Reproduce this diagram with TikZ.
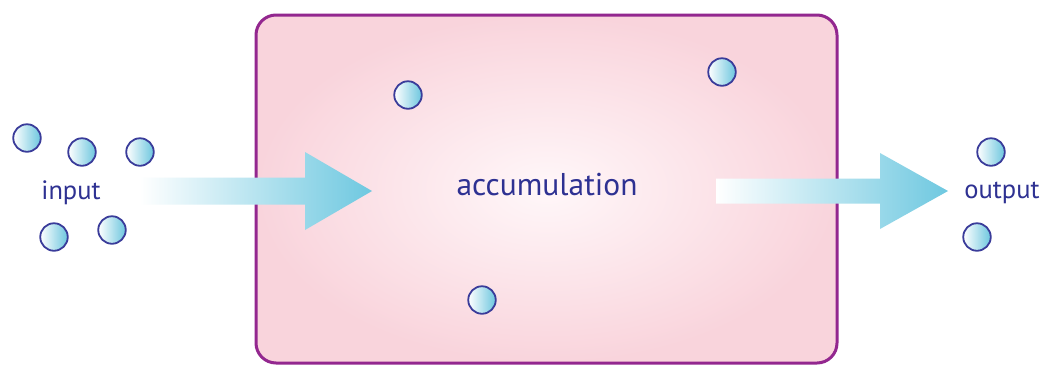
\documentclass[tikz,border=0pt]{standalone}
\usepackage{fontspec}
\setmainfont{PT Sans}
\definecolor{boxline}{HTML}{93278F}
\definecolor{boxout}{HTML}{F9D4DC}
\definecolor{boxin}{HTML}{FFF7F9}
\definecolor{ink}{HTML}{2E3192}
\definecolor{ballline}{HTML}{3A3C9A}
\definecolor{cyanb}{HTML}{6CC6DE}
\definecolor{arrowc}{HTML}{6EC8E0}
\tikzset{
  ball/.style={circle, draw=ballline, line width=1.8pt, minimum size=27.5pt, inner sep=0pt,
               left color=white, right color=cyanb},
  lbl/.style={text=ink, inner sep=0pt, font=\fontsize{26.5}{30}\selectfont},
  biglbl/.style={text=ink, inner sep=0pt, font=\fontsize{31.5}{36}\selectfont},
  blockarrow/.style={left color=white, right color=arrowc},
  tank/.style={draw=boxline, line width=3pt, rounded corners=20pt, inner color=boxin, outer color=boxout}
}
\begin{document}
\begin{tikzpicture}[x=1pt,y=-1pt]
\useasboundingbox (0,0) rectangle (1042,365);
\fill[white] (0,0) rectangle (1042,365);
% accumulation box
\path[tank] (256,15) rectangle (837,363);
% arrows
\path[blockarrow] (140,177.5) -- (305,177.5) -- (305,152) -- (372,191) -- (305,230) -- (305,204.5) -- (140,204.5) -- cycle;
\path[blockarrow] (716,178.5) -- (880,178.5) -- (880,153) -- (948,191) -- (880,229) -- (880,203.5) -- (716,203.5) -- cycle;
% labels
\node[lbl] (in) at (71,193) {input};
\node[biglbl] (acc) at (547,185) {accumulation};
\node[lbl] (out) at (1002,193) {output};
% input particles
\node[ball] (i1) at (27,138) {};
\node[ball] (i2) at (82,152) {};
\node[ball] (i3) at (140,152) {};
\node[ball] (i4) at (54,237) {};
\node[ball] (i5) at (112,230) {};
% accumulated particles
\node[ball] (a1) at (408,95) {};
\node[ball] (a2) at (722,72) {};
\node[ball] (a3) at (482,300) {};
% output particles
\node[ball] (o1) at (991,152) {};
\node[ball] (o2) at (977,237) {};
\end{tikzpicture}
\end{document}
